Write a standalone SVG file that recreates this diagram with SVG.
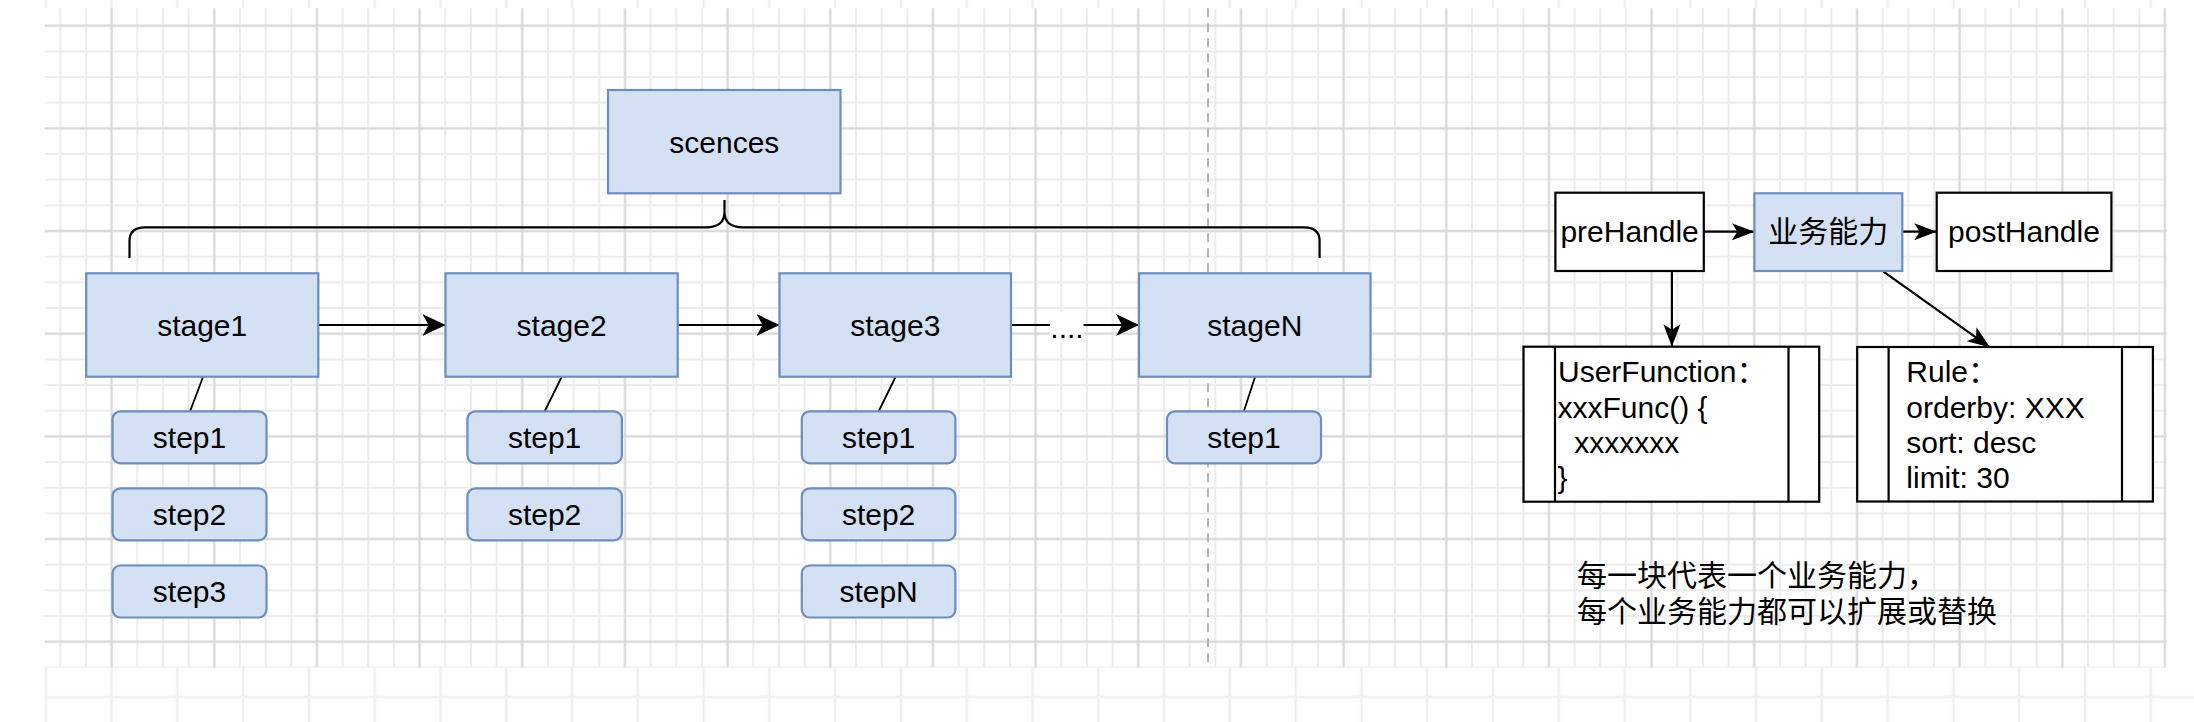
<svg xmlns="http://www.w3.org/2000/svg" width="2194" height="722" viewBox="0 0 2194 722">
  <defs>
    <pattern id="minorGrid" patternUnits="userSpaceOnUse" x="98.77" y="12.87" width="25.667" height="25.667">
      <path d="M12.833,0 V25.667 M0,12.833 H25.667" stroke="#ececec" stroke-width="2" fill="none"/>
    </pattern>
    <pattern id="majorGrid" patternUnits="userSpaceOnUse" x="60.27" y="-25.63" width="102.667" height="102.667">
      <path d="M51.333,0 V102.667 M0,51.333 H102.667" stroke="#d8d8d8" stroke-width="2" fill="none"/>
    </pattern>
    <pattern id="bandGrid" patternUnits="userSpaceOnUse" x="12.9" y="0" width="65.78" height="722">
      <path d="M32.89,0 V722" stroke="#f1eef0" stroke-width="2.5" fill="none"/>
    </pattern>
    <marker id="arrowL" markerUnits="userSpaceOnUse" markerWidth="24" markerHeight="22" viewBox="0 0 24 22" refX="23" refY="11" orient="auto">
      <path d="M0,0 L23,11 L0,22 L6,11 Z" fill="#000"/>
    </marker>
    <marker id="arrowS" markerUnits="userSpaceOnUse" markerWidth="23" markerHeight="18" viewBox="0 0 23 18" refX="22.5" refY="9" orient="auto">
      <path d="M0,0.5 L22.5,9 L0,17.5 L5.5,9 Z" fill="#000"/>
    </marker>
  </defs>
  <style>
    .blue { fill: #d4e1f5; stroke: #6c8ebf; stroke-width: 2.2; }
    .plain { fill: #ffffff; stroke: #000000; stroke-width: 2.2; }
    .lbl { font-family: "Liberation Sans", Arial, "Noto Sans CJK SC", sans-serif; font-size: 30px; fill: #000; }
    .mid { text-anchor: middle; }
    .edge { fill: none; stroke: #000; stroke-width: 2.2; }
    .thin { fill: none; stroke: #000; stroke-width: 1.8; }
  </style>

  <!-- background -->
  <rect x="0" y="0" width="2194" height="722" fill="#ffffff"/>
  <rect x="44.6" y="0" width="2149.4" height="8.3" fill="url(#bandGrid)"/>
  <rect x="44.6" y="667.6" width="2149.4" height="54.4" fill="url(#bandGrid)"/>
  <line x1="44.6" y1="697" x2="2194" y2="697" stroke="#f3f0f2" stroke-width="2.5"/>
  <rect x="44.6" y="8.3" width="2122.1" height="659.3" fill="url(#minorGrid)"/>
  <rect x="44.6" y="8.3" width="2122.1" height="659.3" fill="url(#majorGrid)"/>

  <!-- dashed separator -->
  <line x1="1208" y1="8.3" x2="1208" y2="667.6" stroke="#a3a3a3" stroke-width="1.6" stroke-dasharray="9 6"/>

  <g id="connectors">
    <!-- curly brace under scences -->
    <path class="edge" d="M129.5,258 V241 Q129.5,227.3 145,227.3 H706 Q724.5,227.3 724.5,212 V200 M724.5,212 Q724.5,227.3 743,227.3 H1304 Q1319.6,227.3 1319.6,241 V258"/>
    <!-- stage arrows -->
    <line class="edge" x1="318.3" y1="325" x2="445.5" y2="325" marker-end="url(#arrowL)"/>
    <line class="edge" x1="677.7" y1="325" x2="779.5" y2="325" marker-end="url(#arrowL)"/>
    <line class="edge" x1="1011" y1="325" x2="1139" y2="325" marker-end="url(#arrowL)"/>
    <rect x="1050" y="312" width="33.5" height="30" fill="#ffffff"/>
    <text class="lbl mid" x="1067" y="338">....</text>
    <!-- stage to step lines -->
    <line class="thin" x1="203" y1="377" x2="190" y2="411.5"/>
    <line class="thin" x1="561.6" y1="377" x2="544.6" y2="411.5"/>
    <line class="thin" x1="895.5" y1="377" x2="878.6" y2="411.5"/>
    <line class="thin" x1="1255" y1="377" x2="1243.8" y2="411.5"/>
    <!-- right side arrows -->
    <line class="edge" x1="1703.8" y1="231.7" x2="1754.4" y2="231.7" marker-end="url(#arrowS)"/>
    <line class="edge" x1="1902.3" y1="231.7" x2="1936.7" y2="231.7" marker-end="url(#arrowS)"/>
    <line class="edge" x1="1671.9" y1="271" x2="1671.9" y2="346.7" marker-end="url(#arrowS)"/>
    <line class="edge" x1="1883.5" y1="271.7" x2="1989.9" y2="347.3" marker-end="url(#arrowS)"/>
  </g>

  <g id="scences">
    <rect class="blue" x="608" y="90" width="232.5" height="103.3"/>
    <text class="lbl mid" x="724.3" y="152.5">scences</text>
  </g>

  <g id="stage1">
    <rect class="blue" x="86.2" y="273.3" width="232.1" height="103.4"/>
    <text class="lbl mid" x="202.2" y="335.8">stage1</text>
  </g>
  <g id="stage2">
    <rect class="blue" x="445.5" y="273.3" width="232.2" height="103.4"/>
    <text class="lbl mid" x="561.6" y="335.8">stage2</text>
  </g>
  <g id="stage3">
    <rect class="blue" x="779.5" y="273.3" width="231.5" height="103.4"/>
    <text class="lbl mid" x="895.3" y="335.8">stage3</text>
  </g>
  <g id="stageN">
    <rect class="blue" x="1139" y="273.3" width="231.5" height="103.4"/>
    <text class="lbl mid" x="1254.8" y="335.8">stageN</text>
  </g>

  <g id="stage1-step1">
    <rect class="blue" x="112.5" y="411.3" width="154" height="52" rx="8"/>
    <text class="lbl mid" x="189.5" y="448">step1</text>
  </g>
  <g id="stage1-step2">
    <rect class="blue" x="112.5" y="488.3" width="154" height="52" rx="8"/>
    <text class="lbl mid" x="189.5" y="525">step2</text>
  </g>
  <g id="stage1-step3">
    <rect class="blue" x="112.5" y="565.5" width="154" height="52" rx="8"/>
    <text class="lbl mid" x="189.5" y="602.2">step3</text>
  </g>

  <g id="stage2-step1">
    <rect class="blue" x="467.4" y="411.3" width="154.5" height="52" rx="8"/>
    <text class="lbl mid" x="544.6" y="448">step1</text>
  </g>
  <g id="stage2-step2">
    <rect class="blue" x="467.4" y="488.3" width="154.5" height="52" rx="8"/>
    <text class="lbl mid" x="544.6" y="525">step2</text>
  </g>

  <g id="stage3-step1">
    <rect class="blue" x="801.8" y="411.3" width="153.6" height="52" rx="8"/>
    <text class="lbl mid" x="878.6" y="448">step1</text>
  </g>
  <g id="stage3-step2">
    <rect class="blue" x="801.8" y="488.3" width="153.6" height="52" rx="8"/>
    <text class="lbl mid" x="878.6" y="525">step2</text>
  </g>
  <g id="stage3-stepN">
    <rect class="blue" x="801.8" y="565.5" width="153.6" height="52" rx="8"/>
    <text class="lbl mid" x="878.6" y="602.2">stepN</text>
  </g>

  <g id="stageN-step1">
    <rect class="blue" x="1167" y="411.3" width="154" height="52" rx="8"/>
    <text class="lbl mid" x="1244" y="448">step1</text>
  </g>

  <g id="preHandle">
    <rect class="plain" x="1555.4" y="192.7" width="148.4" height="78.3"/>
    <text class="lbl mid" x="1629.6" y="242">preHandle</text>
  </g>
  <g id="business">
    <rect class="blue" x="1754.4" y="193.3" width="147.9" height="77.7"/>
    <text class="lbl mid" x="1828.3" y="242">业务能力</text>
  </g>
  <g id="postHandle">
    <rect class="plain" x="1936.7" y="192.7" width="174.7" height="78.3"/>
    <text class="lbl mid" x="2024" y="242">postHandle</text>
  </g>

  <g id="userFunction">
    <rect class="plain" x="1523.5" y="346.7" width="295.7" height="155"/>
    <line class="edge" x1="1555" y1="346.7" x2="1555" y2="501.7"/>
    <line class="edge" x1="1788.5" y1="346.7" x2="1788.5" y2="501.7"/>
    <text class="lbl" x="1558" y="381.7">UserFunction：</text>
    <text class="lbl" x="1557.5" y="418.3">xxxFunc() {</text>
    <text class="lbl" x="1557.5" y="453.3" xml:space="preserve">  xxxxxxx</text>
    <text class="lbl" x="1557.5" y="488">}</text>
  </g>

  <g id="rule">
    <rect class="plain" x="1857.2" y="347" width="295.7" height="154.5"/>
    <line class="edge" x1="1888.6" y1="347" x2="1888.6" y2="501.5"/>
    <line class="edge" x1="2122" y1="347" x2="2122" y2="501.5"/>
    <text class="lbl" x="1906.3" y="381.7">Rule：</text>
    <text class="lbl" x="1906.3" y="417.5">orderby: XXX</text>
    <text class="lbl" x="1906.3" y="453.3">sort: desc</text>
    <text class="lbl" x="1906.3" y="487.5">limit: 30</text>
  </g>

  <g id="note">
    <text class="lbl" x="1577" y="586">每一块代表一个业务能力，</text>
    <text class="lbl" x="1577" y="621.5">每个业务能力都可以扩展或替换</text>
  </g>
</svg>
